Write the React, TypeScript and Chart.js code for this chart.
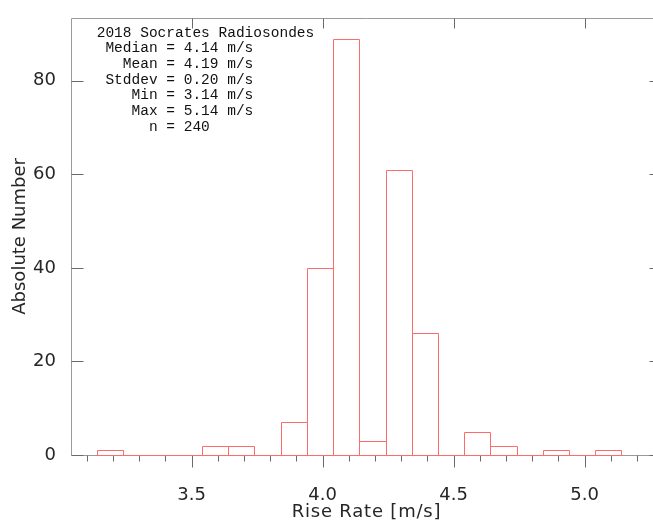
import React, { useEffect, useRef } from "react";
import { Chart, registerables } from "chart.js";

Chart.register(...registerables);

// ---- data ----
const binCenters = [3.19, 3.29, 3.39, 3.49, 3.59, 3.69, 3.79, 3.89, 3.99, 4.09, 4.19, 4.29, 4.39, 4.49, 4.59, 4.69, 4.79, 4.89, 4.99, 5.09];
const counts = [1, 0, 0, 0, 2, 2, 0, 7, 40, 89, 3, 61, 26, 0, 5, 2, 0, 1, 0, 1];
const xMajorTicks = [3.5, 4.0, 4.5, 5.0];
const xMinorTicks = [3.1, 3.2, 3.3, 3.4, 3.6, 3.7, 3.8, 3.9, 4.1, 4.2, 4.3, 4.4, 4.6, 4.7, 4.8, 4.9, 5.1, 5.2];
const yMajorTicks = [0, 20, 40, 60, 80];
const statsLines = [
  "2018 Socrates Radiosondes",
  " Median = 4.14 m/s",
  "   Mean = 4.19 m/s",
  " Stddev = 0.20 m/s",
  "    Min = 3.14 m/s",
  "    Max = 5.14 m/s",
  "      n = 240",
];
const xTitle = "Rise Rate [m/s]";
const yTitle = "Absolute Number";
const xRange = [3.04, 5.295];
const yRange = [0, 93.45];

const FONT_FAMILY = "'DejaVu Sans', sans-serif";
const labelFont = { family: FONT_FAMILY, size: 18 };
const TEXT_COLOR = "#262626";

const histPlugin = {
  id: "histOutline",
  beforeDatasetsDraw(chart: any) {
    const { ctx, chartArea, scales } = chart;
    const { left, right, top, bottom } = chartArea;
    const xs = scales.x;
    const ys = scales.y;
    const L = Math.round(left) + 0.5;
    const R = Math.round(right) - 0.5;
    const T = Math.round(top) + 0.5;
    const B = Math.round(bottom) + 0.5;
    ctx.save();
    ctx.lineWidth = 1;
    ctx.strokeStyle = "#9a9a9a";
    ctx.beginPath();
    ctx.moveTo(L, T);
    ctx.lineTo(R, T);
    ctx.lineTo(R, B);
    ctx.lineTo(L, B);
    ctx.closePath();
    ctx.stroke();
    ctx.strokeStyle = "#6a6a6a";
    ctx.beginPath();
    for (const v of xMajorTicks) {
      const px = Math.round(xs.getPixelForValue(v)) + 0.5;
      ctx.moveTo(px, B);
      ctx.lineTo(px, B + 12);
      ctx.moveTo(px, T);
      ctx.lineTo(px, T + 10);
    }
    for (const v of xMinorTicks) {
      const px = Math.round(xs.getPixelForValue(v)) + 0.5;
      ctx.moveTo(px, B);
      ctx.lineTo(px, B + 6);
    }
    for (const v of yMajorTicks) {
      const py = Math.round(ys.getPixelForValue(v)) + 0.5;
      ctx.moveTo(L, py);
      ctx.lineTo(L + 12, py);
      ctx.moveTo(R, py);
      ctx.lineTo(R - 12, py);
    }
    ctx.stroke();
    ctx.restore();
  },
  afterDatasetsDraw(chart: any) {
    const { ctx, chartArea } = chart;
    const meta = chart.getDatasetMeta(0);
    ctx.save();
    ctx.lineWidth = 1;
    ctx.strokeStyle = "#ff6b6b";
    ctx.beginPath();
    for (const el of meta.data) {
      const p = el.getProps(["x", "y", "base", "width"], true);
      const l = Math.round(p.x - p.width / 2) + 0.5;
      const r = Math.round(p.x + p.width / 2) + 0.5;
      const t = Math.round(p.y) + 0.5;
      const b = Math.round(p.base) + 0.5;
      if (Math.abs(b - t) < 0.5) {
        ctx.moveTo(l, b);
        ctx.lineTo(r, b);
      } else {
        ctx.moveTo(l, b);
        ctx.lineTo(l, t);
        ctx.lineTo(r, t);
        ctx.lineTo(r, b);
        ctx.lineTo(l, b);
      }
    }
    ctx.stroke();

    // stats text
    ctx.fillStyle = "#111";
    ctx.font = "14.5px 'Liberation Mono', monospace";
    ctx.textBaseline = "middle";
    ctx.textAlign = "left";
    statsLines.forEach((line, i) => {
      ctx.fillText(line, 96.7, 32.7 + i * 15.67);
    });

    // axis titles
    ctx.fillStyle = TEXT_COLOR;
    ctx.font = `18px ${FONT_FAMILY}`;
    ctx.textAlign = "center";
    ctx.textBaseline = "middle";
    const cx = (chartArea.left + 662) / 2;
    (ctx as any).letterSpacing = "0.8px";
    ctx.fillText(xTitle, cx, 512.5);
    (ctx as any).letterSpacing = "0px";
    ctx.save();
    ctx.translate(20, (chartArea.top + chartArea.bottom) / 2);
    ctx.rotate(-Math.PI / 2);
    ctx.fillText(yTitle, 0, 0);
    ctx.restore();
    ctx.restore();
  },
};

export default function App() {
  const ref = useRef<HTMLCanvasElement | null>(null);
  useEffect(() => {
    if (!ref.current) return;
    const chart = new Chart(ref.current, {
      type: "bar",
      data: {
        datasets: [
          {
            data: binCenters.map((x, i) => ({ x, y: counts[i] })),
            backgroundColor: "rgba(0,0,0,0)",
            borderWidth: 0,
            barPercentage: 1,
            categoryPercentage: 1,
          } as any,
        ],
      },
      options: {
        animation: false,
        responsive: false,
        devicePixelRatio: 1,
        layout: { padding: { top: 5, left: 0, right: 0, bottom: 0 } },
        plugins: { legend: { display: false }, tooltip: { enabled: false } },
        scales: {
          x: {
            type: "linear",
            min: xRange[0],
            max: xRange[1],
            offset: false,
            grid: { display: false, offset: false },
            border: { display: false },
            afterBuildTicks: (s: any) => {
              s.ticks = xMajorTicks.map((v) => ({ value: v }));
            },
            ticks: {
              callback: (v: any) => Number(v).toFixed(1),
              font: labelFont,
              color: TEXT_COLOR,
              padding: 22,
              maxRotation: 0,
              autoSkip: false,
            },
            afterFit: (s: any) => {
              s.height = 72;
            },
          },
          y: {
            type: "linear",
            min: yRange[0],
            max: yRange[1],
            grid: { display: false },
            border: { display: false },
            afterBuildTicks: (s: any) => {
              s.ticks = yMajorTicks.map((v) => ({ value: v }));
            },
            ticks: {
              font: labelFont,
              color: TEXT_COLOR,
              padding: 7,
            },
            afterFit: (s: any) => {
              s.width = 71;
            },
          },
        },
      },
      plugins: [histPlugin],
    });
    return () => chart.destroy();
  }, []);
  return (
    <div
      style={{
        position: "absolute",
        left: 0,
        top: 0,
        width: 653,
        height: 527,
        overflow: "hidden",
        background: "#fff",
      }}
    >
      <canvas ref={ref} width={662} height={527} style={{ width: 662, height: 527, display: "block" }} />
    </div>
  );
}
